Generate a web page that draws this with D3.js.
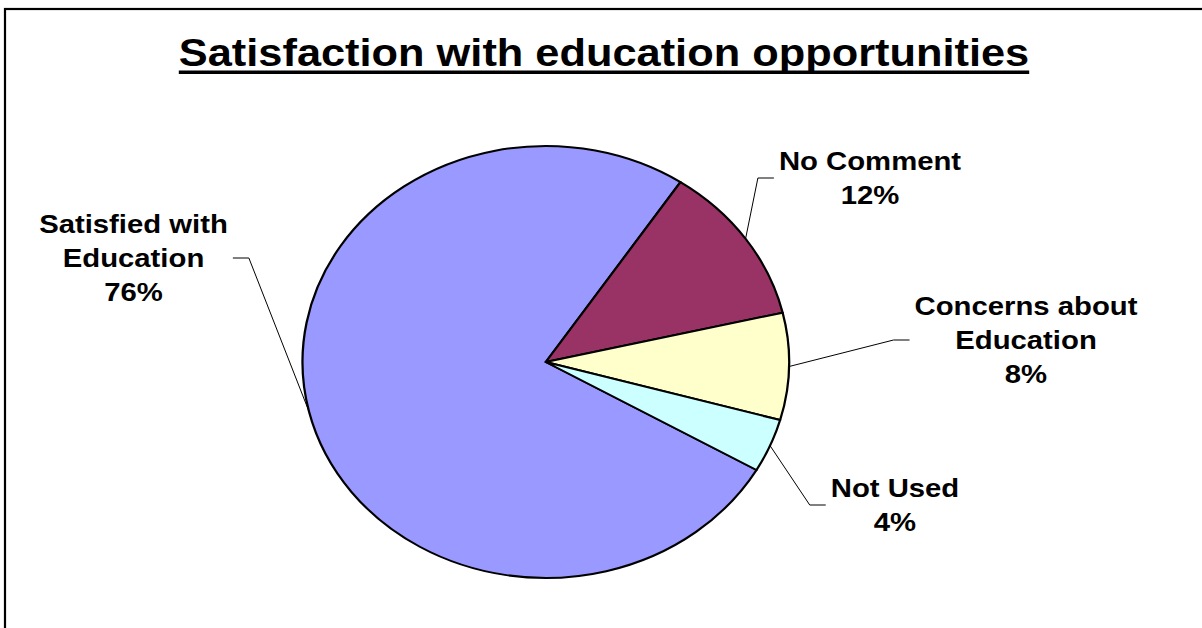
<!DOCTYPE html>
<html>
<head>
<meta charset="utf-8">
<script src="https://cdn.jsdelivr.net/npm/d3@7/dist/d3.min.js"></script>
<style>
  html, body { margin: 0; padding: 0; background: #fff; }
  svg { display: block; }
  text { font-family: "Liberation Sans", Arial, sans-serif; font-weight: bold; fill: #000; }
</style>
</head>
<body>
<svg id="chart" width="1202" height="628"></svg>
<script>
// ---- data ----
const titleText = "Satisfaction with education opportunities";
const categories = ["Satisfied with Education", "No Comment", "Concerns about Education", "Not Used"];
const categoryLines = [["Satisfied with", "Education"], ["No Comment"], ["Concerns about", "Education"], ["Not Used"]];
const shares = [76, 12, 8, 4];
const colors = ["#9999FF", "#993366", "#FFFFCC", "#CCFFFF"];

// ---- layout ----
const W = 1202, H = 628;
const sx = 1.1264;            // horizontal stretch of the whole drawing
const cx = 545.8, cy = 362;   // pie centre
const R = 216;                // pie radius (vertical)
const firstAngle = 120 * Math.PI / 180;
const labelCenters = [[133.5, 258], [870, 178], [1026, 340], [895, 505]];
const lineGap = 34;

const svg = d3.select("#chart");

// chart frame (right and bottom edges run past the page)
svg.append("rect")
  .attr("x", 5).attr("y", 9)
  .attr("width", W + 50).attr("height", H + 50)
  .attr("fill", "#fff")
  .attr("stroke", "#000").attr("stroke-width", 2.2);

// title with underline
const title = svg.append("g")
  .attr("transform", `translate(604,66) scale(${sx},1)`);
const titleEl = title.append("text")
  .attr("text-anchor", "middle")
  .attr("font-size", 38.5)
  .text(titleText);
const tw = titleEl.node().getComputedTextLength();
title.append("rect")
  .attr("x", -tw / 2).attr("y", 4.5)
  .attr("width", tw).attr("height", 3.5)
  .attr("fill", "#000");

// pie
const pie = d3.pie().sort(null).value(d => d)
  .startAngle(firstAngle).endAngle(firstAngle + 2 * Math.PI);
const arcs = pie(shares);
const arc = d3.arc().innerRadius(0).outerRadius(R);
const edge = d3.arc().innerRadius(R).outerRadius(R);

const pieG = svg.append("g")
  .attr("transform", `translate(${cx},${cy}) scale(${sx},1)`);
pieG.selectAll("path.slice")
  .data(arcs)
  .join("path")
  .attr("class", "slice")
  .attr("d", arc)
  .attr("fill", (d, i) => colors[i])
  .attr("stroke", "#000")
  .attr("stroke-width", 2)
  .attr("stroke-linejoin", "round");

// labels and leader lines
const leaders = svg.append("g");
const labels = svg.append("g");

arcs.forEach((d, i) => {
  const [lx, ly] = labelCenters[i];
  const lines = categoryLines[i].concat([`${shares[i]}%`]);
  const n = lines.length;
  const g = labels.append("g")
    .attr("transform", `translate(${lx},${ly}) scale(${sx},1)`);
  const t = g.append("text")
    .attr("text-anchor", "middle")
    .attr("font-size", 26);
  lines.forEach((s, k) => {
    t.append("tspan")
      .attr("x", 0)
      .attr("y", (k - (n - 1) / 2) * lineGap + 9)
      .text(s);
  });
  const w = t.node().getBBox().width * sx;

  const [ex, ey] = edge.centroid(d);
  const start = [cx + ex * sx, cy + ey];
  const right = lx > cx;
  const endX = right ? lx - w / 2 - 5 : lx + w / 2 + 5;
  const bendX = right ? endX - 16 : endX + 16;
  leaders.append("path")
    .attr("d", d3.line()([start, [bendX, ly], [endX, ly]]))
    .attr("fill", "none")
    .attr("stroke", "#000")
    .attr("stroke-width", 1);
});
</script>
</body>
</html>
